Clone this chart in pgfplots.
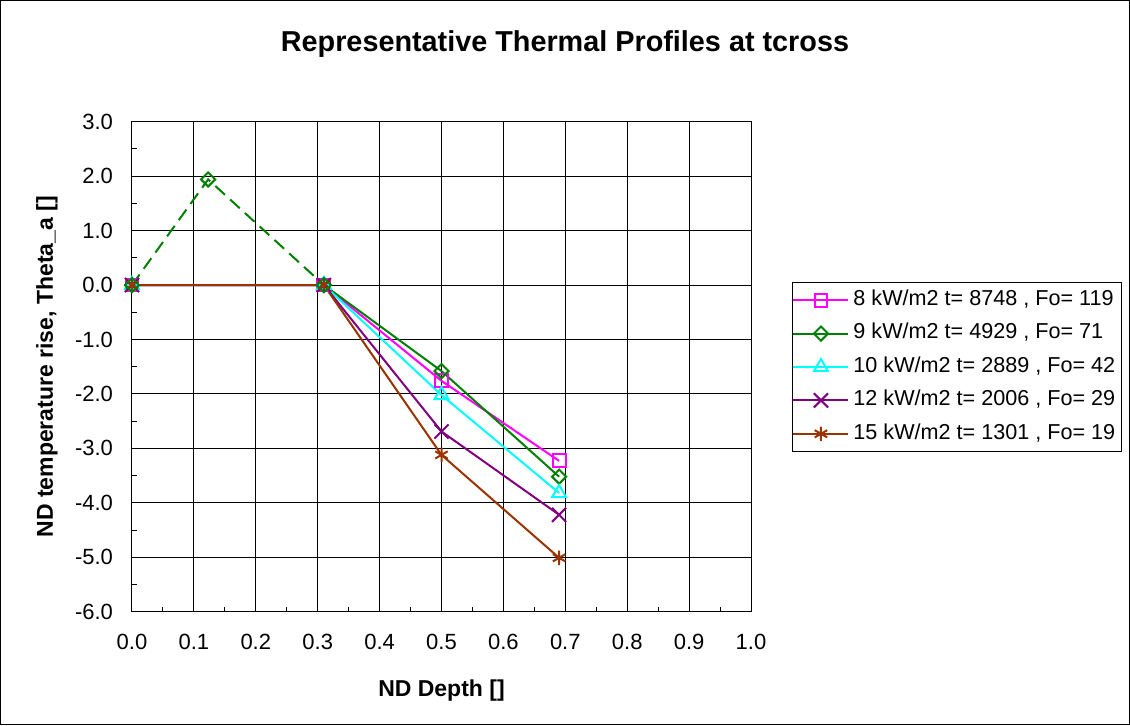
\documentclass[border=0pt]{standalone}
\usepackage{pgfplots}
\pgfplotsset{compat=1.18}
\usepackage{fontspec}
\setmainfont{Liberation Sans}
\definecolor{cmag}{RGB}{255,0,255}
\definecolor{cgreen}{RGB}{0,128,0}
\definecolor{ccyan}{RGB}{0,255,255}
\definecolor{cpurple}{RGB}{128,0,128}
\definecolor{cbrown}{RGB}{153,51,0}
\begin{document}
\begin{tikzpicture}[x=1pt,y=1pt]
\useasboundingbox (0,0) rectangle (565,362.5);
\draw[line width=0.5pt] (0.25,0.25) rectangle (564.75,362.25);
\node[font=\fontsize{14.4}{17}\selectfont\bfseries] at (282.5,340.5) {Representative Thermal Profiles at tcross};
\begin{axis}[
  at={(66pt,56.65pt)}, anchor=south west,
  scale only axis, width=309.5pt, height=245pt,
  xmin=0, xmax=1, ymin=-6, ymax=3,
  xtick={0,0.1,0.2,0.3,0.4,0.5,0.6,0.7,0.8,0.9,1.0},
  ytick={-6,-5,-4,-3,-2,-1,0,1,2,3},
  minor x tick num=1, minor y tick num=1,
  tick align=inside, tick pos=left,
  major tick length=2.5pt, minor tick length=2.5pt,
  tick style={black, line width=0.5pt},
  grid=major, major grid style={black, line width=0.5pt},
  axis line style={line width=0.5pt},
  clip=false,
  ticklabel style={font=\fontsize{11}{13}\selectfont},
  /pgf/number format/.cd, fixed, fixed zerofill, precision=1, assume math mode=true,
  /pgfplots/.cd,
  xticklabel style={anchor=center, yshift=-15.1pt},
  yticklabel style={anchor=east, xshift=-6pt},
  xlabel={ND Depth []},
  ylabel={ND temperature rise, Theta\_a []},
  label style={font=\fontsize{11.5}{14}\selectfont\bfseries},
  xlabel style={at={(axis description cs:0.5,-0.16)}, anchor=center},
  ylabel style={at={(axis description cs:-0.1373,0.5)}, anchor=center},
  legend style={at={(axis description cs:1.0662,0.6729)}, anchor=north west,
    draw=black, line width=0.5pt, inner xsep=0pt, inner ysep=0.5pt,
    font=\fontsize{10.8}{13}\selectfont, row sep=0pt,
    nodes={inner xsep=3pt, inner ysep=3.2pt, text height=7.8pt, text depth=2.5pt},
    /tikz/every odd column/.append style={column sep=-1pt}},
  legend cell align=left,
  legend image code/.code={\draw[mark repeat=2,mark phase=2,#1] plot coordinates {(2.5pt,0pt)(16.25pt,0pt)(30pt,0pt)};},
]
\addplot[cmag, line width=1pt, mark=square, mark size=3.2pt, mark options={line width=1pt}]
  coordinates {(0,0) (0.31,0) (0.5,-1.76) (0.69,-3.23)};
\addlegendentry{8 kW/m2 t= 8748 , Fo= 119}
\addplot[cgreen, line width=1pt, mark=square, mark size=2.5pt, mark options={rotate=45, line width=1pt}]
  coordinates {(0.31,0) (0.5,-1.58) (0.69,-3.52)};
\addlegendentry{9 kW/m2 t= 4929 , Fo= 71}
\addplot[ccyan, line width=1pt, mark=triangle, mark size=4pt, mark options={line width=1pt}]
  coordinates {(0,0) (0.31,0) (0.5,-2.02) (0.69,-3.82)};
\addlegendentry{10 kW/m2 t= 2889 , Fo= 42}
\addplot[cpurple, line width=1pt, mark=x, mark size=5pt, mark options={line width=1pt}]
  coordinates {(0,0) (0.31,0) (0.5,-2.69) (0.69,-4.22)};
\addlegendentry{12 kW/m2 t= 2006 , Fo= 29}
\addplot[cbrown, line width=1pt, mark=asterisk, mark size=3.6pt, mark options={line width=1pt}]
  coordinates {(0,0) (0.31,0) (0.5,-3.12) (0.69,-5.01)};
\addlegendentry{15 kW/m2 t= 1301 , Fo= 19}
\addplot[cgreen, line width=1pt, dash pattern=on 6.5pt off 3.5pt, mark=square, mark size=2.5pt, mark options={solid, rotate=45, line width=1pt}, forget plot]
  coordinates {(0,0) (0.123,1.94) (0.31,0)};
\end{axis}
\end{tikzpicture}
\end{document}
